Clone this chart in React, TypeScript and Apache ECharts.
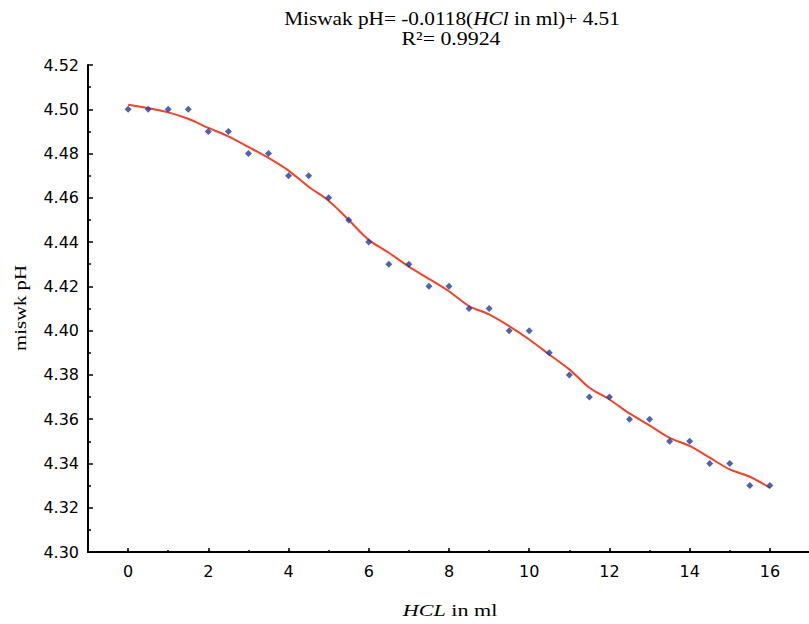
import React, { useEffect, useRef } from "react";
import * as echarts from "echarts";

// HCl volume (ml) for each measured point
const hclVolumes = [0, 0.5, 1, 1.5, 2, 2.5, 3, 3.5, 4, 4.5, 5, 5.5, 6, 6.5, 7, 7.5, 8, 8.5, 9, 9.5, 10, 10.5, 11, 11.5, 12, 12.5, 13, 13.5, 14, 14.5, 15, 15.5, 16];
// measured miswak pH
const measuredPH = [4.5, 4.5, 4.5, 4.5, 4.49, 4.49, 4.48, 4.48, 4.47, 4.47, 4.46, 4.45, 4.44, 4.43, 4.43, 4.42, 4.42, 4.41, 4.41, 4.4, 4.4, 4.39, 4.38, 4.37, 4.37, 4.36, 4.36, 4.35, 4.35, 4.34, 4.34, 4.33, 4.33];
// fitted (smoothed) curve, at the same volumes
const fittedPH = [4.502, 4.5005, 4.4986, 4.4957, 4.4916, 4.4878, 4.483, 4.478, 4.4723, 4.465, 4.4587, 4.45, 4.441, 4.4352, 4.4289, 4.4234, 4.4178, 4.4111, 4.4073, 4.402, 4.396, 4.3892, 4.3825, 4.3742, 4.3689, 4.3626, 4.3572, 4.3516, 4.3479, 4.3426, 4.3373, 4.334, 4.329];

const titleLine1 = "{n|Miswak pH= -0.0118(}{i|HCl}{n| in ml)+ 4.51}";
const titleLine2 = "R\u00b2= 0.9924";
const yAxisName = "miswk pH";
const xAxisName = "{i|HCL}{n| in ml}";

const SERIF = "'Liberation Serif', 'Times New Roman', serif";
const SANS = "'DejaVu Sans', sans-serif";

export default function App() {
  const ref = useRef<HTMLDivElement>(null);
  useEffect(() => {
    if (!ref.current) return;
    const chart = echarts.init(ref.current, undefined, { renderer: "svg" });
    const scatterData = hclVolumes.map((x, i) => [x, measuredPH[i]]);
    const lineData = hclVolumes.map((x, i) => [x, fittedPH[i]]);
    chart.setOption({
      animation: false,
      backgroundColor: "#ffffff",
      grid: { left: 88, top: 65, right: 0, bottom: 72 },
      xAxis: [
        {
          type: "value",
          min: -1,
          max: 17,
          splitNumber: 9,
          axisLine: { show: true, onZero: false, lineStyle: { color: "#000", width: 2 } },
          axisTick: { show: true, inside: true, length: 4, lineStyle: { color: "#000", width: 1.5 } },
          axisLabel: {
            show: true,
            margin: 11,
            color: "#000",
            fontFamily: SANS,
            fontSize: 16,
            formatter: (v: number) => (v >= 0 && v <= 16 && v % 2 === 0 ? String(v) : ""),
          },
          splitLine: { show: false },
        },
        {
          type: "value",
          position: "bottom",
          min: -1,
          max: 17,
          interval: 1,
          axisLine: { show: false },
          axisTick: { show: true, inside: true, length: 2, lineStyle: { color: "#000", width: 1.5 } },
          axisLabel: { show: false },
          splitLine: { show: false },
        },
      ],
      yAxis: {
        type: "value",
        min: 4.3,
        max: 4.52,
        interval: 0.02,
        axisLine: { show: true, onZero: false, lineStyle: { color: "#000", width: 2 } },
        axisTick: { show: true, inside: true, length: 5, lineStyle: { color: "#000", width: 1.5 } },
        minorTick: { show: true, splitNumber: 2, length: 3, lineStyle: { color: "#000", width: 1.5 } },
        axisLabel: {
          margin: 9,
          color: "#000",
          fontFamily: SANS,
          fontSize: 16,
          formatter: (v: number) => v.toFixed(2),
        },
        splitLine: { show: false },
        minorSplitLine: { show: false },
      },
      series: [
        {
          type: "scatter",
          data: scatterData,
          symbol: "diamond",
          symbolSize: 7,
          itemStyle: { color: "#1f3d9e" },
          z: 3,
        },
        {
          type: "line",
          data: lineData,
          showSymbol: false,
          smooth: 0.3,
          lineStyle: { color: "#f0432a", width: 2 },
          z: 2,
        },
      ],
      graphic: [
        {
          type: "text",
          x: 452,
          y: 18,
          scaleX: 1.12,
          style: {
            text: titleLine1,
            align: "center",
            verticalAlign: "middle",
            fill: "#000",
            font: `19px ${SERIF}`,
            rich: {
              n: { fontFamily: SERIF, fontSize: 19, fill: "#000" },
              i: { fontFamily: SERIF, fontSize: 19, fontStyle: "italic", fill: "#000" },
            },
          },
        },
        {
          type: "text",
          x: 451,
          y: 39,
          scaleX: 1.15,
          style: {
            text: titleLine2,
            align: "center",
            verticalAlign: "middle",
            fill: "#000",
            fontFamily: SERIF,
            fontSize: 19,
          },
        },
        {
          type: "text",
          x: 20,
          y: 308,
          rotation: Math.PI / 2,
          scaleX: 1.3,
          style: {
            text: yAxisName,
            align: "center",
            verticalAlign: "middle",
            fill: "#000",
            fontFamily: SERIF,
            fontSize: 16,
          },
        },
        {
          type: "text",
          x: 450,
          y: 610,
          scaleX: 1.3,
          style: {
            text: xAxisName,
            align: "center",
            verticalAlign: "middle",
            fill: "#000",
            font: `17px ${SERIF}`,
            rich: {
              n: { fontFamily: SERIF, fontSize: 17, fill: "#000" },
              i: { fontFamily: SERIF, fontSize: 17, fontStyle: "italic", fill: "#000" },
            },
          },
        },
      ],
    });
    return () => chart.dispose();
  }, []);
  return (
    <div
      ref={ref}
      style={{ position: "fixed", left: 0, top: 0, width: 813, height: 624, background: "#fff" }}
    />
  );
}
